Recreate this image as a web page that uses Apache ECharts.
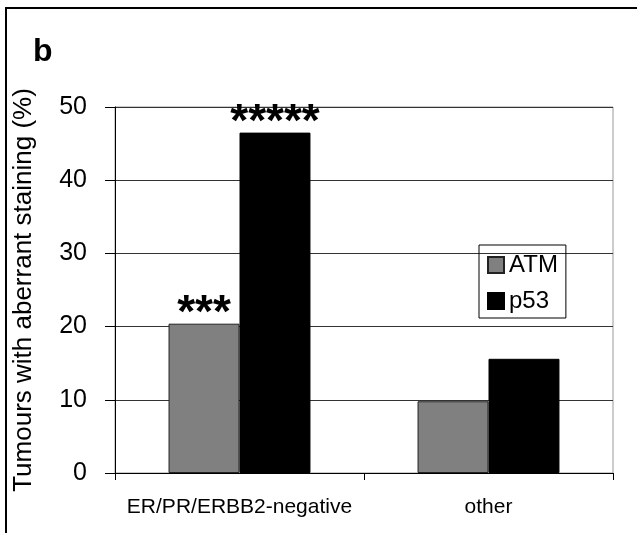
<!DOCTYPE html>
<html>
<head>
<meta charset="utf-8">
<script src="https://cdn.jsdelivr.net/npm/echarts@6/dist/echarts.min.js"></script>
<style>
  html, body { margin: 0; padding: 0; background: #fff; }
  #chart { width: 637px; height: 533px; }
</style>
</head>
<body>
<div id="chart"></div>
<script>
// data
const categories = ['ER/PR/ERBB2-negative', 'other'];
const atm = [20.4, 9.8];
const p53 = [46.5, 15.6];
const atmStars = ['***', ''];
const p53Stars = ['*****', ''];

const font = 'Liberation Sans, Arial, sans-serif';

let myChart = echarts.init(document.getElementById('chart'));

function starLabel(stars) {
    return {
        show: true,
        position: 'top',
        distance: -14,
        formatter: p => stars[p.dataIndex],
        color: '#000',
        fontFamily: font,
        fontWeight: 'bold',
        fontSize: 46
    };
}

myChart.setOption({
    animation: false,
    backgroundColor: '#fff',
    graphic: [{
        type: 'rect',
        shape: { x: 6, y: 8, width: 700, height: 600 },
        style: { fill: 'none', stroke: '#000', lineWidth: 2 }
    }, {
        type: 'text',
        left: 33,
        top: 36,
        style: { text: 'b', font: 'bold 32px ' + font, fill: '#000' }
    }],
    grid: {
        left: 115, right: 24, top: 107, bottom: 60,
        show: true, borderColor: '#999', borderWidth: 1
    },
    legend: {
        orient: 'vertical',
        left: 479,
        top: 245,
        itemWidth: 16,
        itemHeight: 16,
        itemGap: 12,
        padding: [8, 8, 5, 8],
        borderColor: '#000',
        borderWidth: 1,
        borderRadius: 0,
        icon: 'rect',
        textStyle: { fontFamily: font, fontSize: 24, color: '#000' },
        data: ['ATM', 'p53']
    },
    xAxis: {
        type: 'category',
        data: categories,
        axisLine: { lineStyle: { color: '#000', width: 1 } },
        axisTick: { show: true, length: 7, lineStyle: { color: '#000' } },
        axisLabel: { interval: 0, color: '#000', fontFamily: font, fontSize: 21, margin: 24 }
    },
    yAxis: {
        type: 'value',
        min: 0,
        max: 50,
        interval: 10,
        name: 'Tumours with aberrant staining (%)',
        nameLocation: 'middle',
        nameGap: 78,
        nameTextStyle: { color: '#000', fontFamily: font, fontSize: 26 },
        axisLine: { show: true, lineStyle: { color: '#000', width: 1 } },
        axisTick: { show: true, length: 10, lineStyle: { color: '#000' } },
        axisLabel: { color: '#000', fontFamily: font, fontSize: 25, margin: 28 },
        splitLine: { lineStyle: { color: '#333', width: 1 } }
    },
    series: [{
        name: 'ATM',
        type: 'bar',
        data: atm,
        barGap: '0%',
        barCategoryGap: '43%',
        itemStyle: { color: '#808080', borderColor: '#222', borderWidth: 1 },
        label: starLabel(atmStars)
    }, {
        name: 'p53',
        type: 'bar',
        data: p53,
        barGap: '0%',
        barCategoryGap: '43%',
        itemStyle: { color: '#000', borderColor: '#000', borderWidth: 1 },
        label: starLabel(p53Stars)
    }]
});
</script>
</body>
</html>
